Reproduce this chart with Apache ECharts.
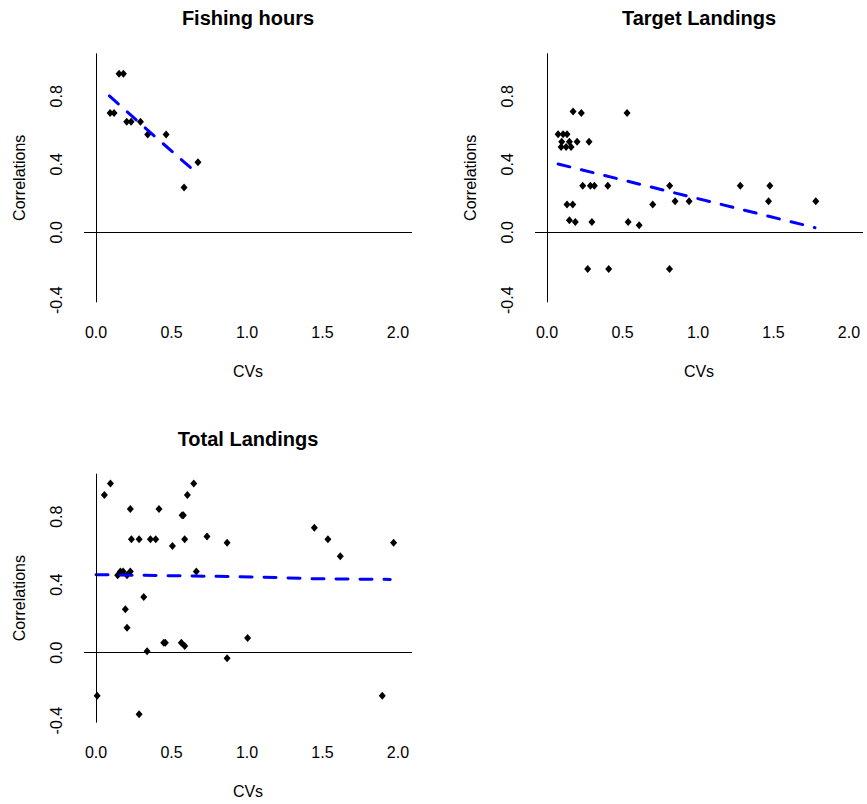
<!DOCTYPE html>
<html>
<head>
<meta charset="utf-8">
<script src="https://cdn.jsdelivr.net/npm/echarts@6/dist/echarts.min.js"></script>
<style>
html,body{margin:0;padding:0;background:#fff;}
#chart{width:867px;height:804px;}
</style>
</head>
<body>
<div id="chart"></div>
<script>
// ---- tick labels ----
const xTicks = [0, 0.5, 1.0, 1.5, 2.0];
const yTicks = [-0.4, 0.0, 0.4, 0.8];
const panelTitles = ['Fishing hours', 'Target Landings', 'Total Landings'];
const xName = 'CVs';
const yName = 'Correlations';

// ---- Fishing hours ----
const fishX = [0.152, 0.181, 0.093, 0.119, 0.203, 0.232, 0.294, 0.342, 0.464, 0.583, 0.675];
const fishY = [0.933, 0.933, 0.702, 0.702, 0.651, 0.651, 0.651, 0.575, 0.575, 0.263, 0.412];
const fishFitX = [0.088, 0.340, 0.651];
const fishFitY = [0.802, 0.602, 0.361];

// ---- Target Landings ----
const targetX = [0.172, 0.227, 0.530, 0.073, 0.106, 0.132, 0.097, 0.148, 0.199, 0.278,
  0.093, 0.126, 0.159, 0.236, 0.287, 0.313, 0.402, 0.812, 1.280, 1.476,
  0.132, 0.170, 0.700, 0.848, 0.941, 1.467, 1.780, 0.148, 0.187, 0.297,
  0.537, 0.610, 0.269, 0.408, 0.811];
const targetY = [0.710, 0.702, 0.702, 0.576, 0.576, 0.576, 0.533, 0.533, 0.533, 0.533,
  0.502, 0.502, 0.502, 0.273, 0.273, 0.273, 0.273, 0.273, 0.273, 0.273,
  0.163, 0.163, 0.163, 0.182, 0.182, 0.182, 0.182, 0.071, 0.061, 0.061,
  0.061, 0.041, -0.216, -0.216, -0.216];
const targetFitX = [0.073, 1.775];
const targetFitY = [0.402, 0.027];

// ---- Total Landings ----
const totalX = [0.007, 0.055, 0.095, 0.227, 0.417, 0.647, 0.605, 0.570, 0.578,
  0.234, 0.285, 0.360, 0.395, 0.587, 0.735, 0.868, 0.506, 1.446, 1.536, 1.618, 1.971,
  0.143, 0.161, 0.179, 0.205, 0.227, 0.664, 0.316, 0.194, 0.205, 0.338,
  0.448, 0.459, 0.565, 0.587, 1.004, 0.868, 1.896, 0.285];
const totalY = [-0.253, 0.927, 0.996, 0.845, 0.845, 0.996, 0.927, 0.808, 0.808,
  0.667, 0.667, 0.667, 0.667, 0.667, 0.684, 0.647, 0.627, 0.735, 0.667, 0.567, 0.647,
  0.455, 0.478, 0.478, 0.455, 0.478, 0.478, 0.327, 0.255, 0.147, 0.008,
  0.059, 0.059, 0.059, 0.039, 0.086, -0.033, -0.253, -0.363];
const totalFitX = [0.0, 0.647, 1.088, 1.441, 1.949];
const totalFitY = [0.459, 0.451, 0.445, 0.435, 0.431];

const FONT = '"Liberation Sans", Arial, Helvetica, sans-serif';
const zip = (a, b) => a.map((v, i) => [v, b[i]]);

const panels = [
  {left: 84, top: 53.3, px: fishX, py: fishY, fx: fishFitX, fy: fishFitY},
  {left: 535, top: 53.3, px: targetX, py: targetY, fx: targetFitX, fy: targetFitY},
  {left: 84, top: 473.7, px: totalX, py: totalY, fx: totalFitX, fy: totalFitY}
];
const W = 328, H = 249;

const grid = [], xAxis = [], yAxis = [], series = [], graphic = [];
panels.forEach((p, i) => {
  grid.push({left: p.left, top: p.top, width: W, height: H, containLabel: false});
  xAxis.push({
    type: 'value', gridIndex: i, min: -0.08, max: 2.093,
    axisLine: {show: false}, axisTick: {show: false}, splitLine: {show: false},
    axisLabel: {customValues: xTicks, formatter: v => v.toFixed(1), margin: 22,
      fontSize: 16, color: '#000', fontFamily: FONT},
    name: xName, nameLocation: 'middle', nameGap: 61,
    nameTextStyle: {fontSize: 16, color: '#000', fontFamily: FONT}
  });
  yAxis.push({
    type: 'value', gridIndex: i, min: -0.412, max: 1.053,
    axisLine: {show: false}, axisTick: {show: false}, splitLine: {show: false},
    axisLabel: {customValues: yTicks, formatter: v => v.toFixed(1), rotate: 90, margin: 20,
      fontSize: 16, color: '#000', fontFamily: FONT},
    name: yName, nameLocation: 'middle', nameGap: 57, nameRotate: 90,
    nameTextStyle: {fontSize: 16, color: '#000', fontFamily: FONT}
  });
  series.push({
    type: 'scatter', xAxisIndex: i, yAxisIndex: i,
    data: zip(p.px, p.py), symbol: 'diamond', symbolSize: [7, 8],
    itemStyle: {color: '#000', opacity: 1}, silent: true,
    markLine: {
      silent: true, symbol: ['none', 'none'], label: {show: false},
      lineStyle: {color: '#000', width: 1, type: 'solid'},
      emphasis: {disabled: true},
      data: [{xAxis: 0}, {yAxis: 0}]
    }
  });
  series.push({
    type: 'line', xAxisIndex: i, yAxisIndex: i,
    data: zip(p.fx, p.fy), showSymbol: false, symbol: 'none', silent: true,
    lineStyle: {color: '#0000ff', width: 3, type: [12, 12], cap: 'round'}
  });
  graphic.push({
    type: 'text', x: p.left + W / 2, y: p.top - 35,
    style: {text: panelTitles[i], font: 'bold 20px ' + FONT, fill: '#000',
      align: 'center', verticalAlign: 'middle', textAlign: 'center', textVerticalAlign: 'middle'}
  });
});

const chart = echarts.init(document.getElementById('chart'), null, {renderer: 'svg', width: 867, height: 804});
chart.setOption({
  animation: false,
  backgroundColor: '#fff',
  grid, xAxis, yAxis, series, graphic
});
</script>
</body>
</html>
